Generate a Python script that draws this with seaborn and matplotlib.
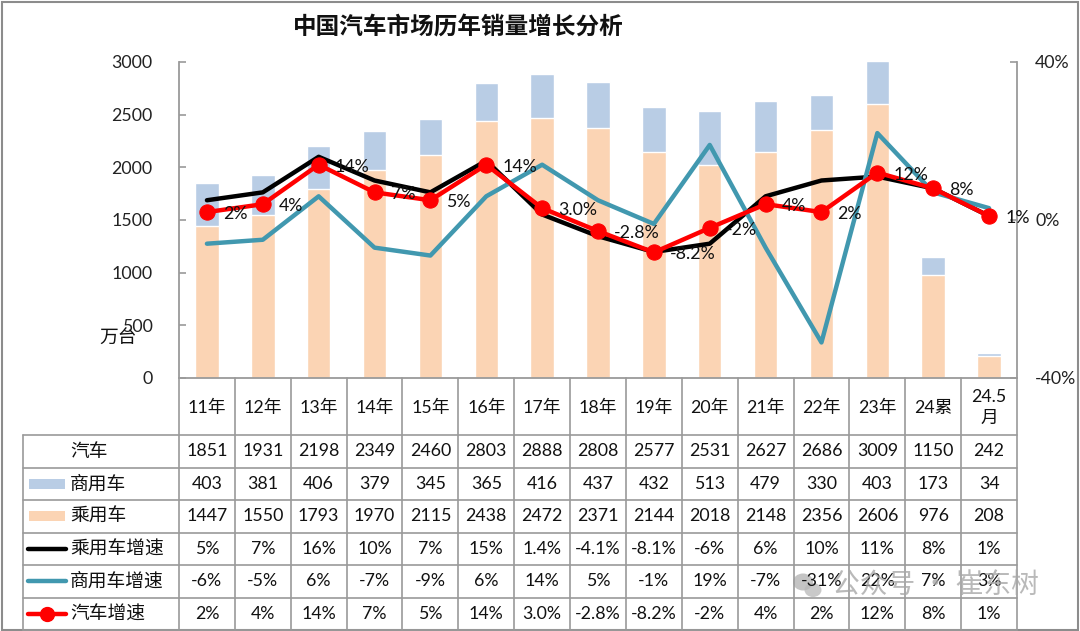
import numpy as np
import pandas as pd
import seaborn as sns
import matplotlib.pyplot as plt
from matplotlib.patches import Rectangle, Ellipse

# 数据
categories = ['11年', '12年', '13年', '14年', '15年', '16年', '17年', '18年',
              '19年', '20年', '21年', '22年', '23年', '24累', '24.5\n月']
total = [1851, 1931, 2198, 2349, 2460, 2803, 2888, 2808, 2577, 2531, 2627, 2686, 3009, 1150, 242]
commercial = [403, 381, 406, 379, 345, 365, 416, 437, 432, 513, 479, 330, 403, 173, 34]
passenger = [1447, 1550, 1793, 1970, 2115, 2438, 2472, 2371, 2144, 2018, 2148, 2356, 2606, 976, 208]
passenger_growth = ['5%', '7%', '16%', '10%', '7%', '15%', '1.4%', '-4.1%', '-8.1%',
                    '-6%', '6%', '10%', '11%', '8%', '1%']
commercial_growth = ['-6%', '-5%', '6%', '-7%', '-9%', '6%', '14%', '5%', '-1%',
                     '19%', '-7%', '-31%', '22%', '7%', '3%']
total_growth = ['2%', '4%', '14%', '7%', '5%', '14%', '3.0%', '-2.8%', '-8.2%',
                '-2%', '4%', '2%', '12%', '8%', '1%']

row_names = ['汽车', '商用车', '乘用车', '乘用车增速', '商用车增速', '汽车增速']

BLUE = '#B9CDE5'
PEACH = '#FBD4B4'
TEAL = '#4198AF'
RED = '#FF0000'
GRID = '#9A9A9A'


def pct(vals):
    return np.array([float(v.rstrip('%')) / 100 for v in vals])


df = pd.DataFrame({'cat': categories, 'commercial': commercial, 'passenger': passenger})
df['stack'] = df['passenger'] + df['commercial']
n = len(df)
xs = np.arange(n)

sns.set_theme(style='white')
plt.rcParams['font.family'] = ['Lato', 'Noto Sans CJK SC', 'DejaVu Sans']

W, H = 1080, 631
fig = plt.figure(figsize=(W / 100, H / 100), dpi=100)

# 表格 / 外框 所用的覆盖层 (像素坐标)
tab = fig.add_axes([0, 0, 1, 1], zorder=0)
tab.set_xlim(0, W)
tab.set_ylim(H, 0)
tab.axis('off')

# 主图区
x0, x1, y_top, y_bot = 179, 1017, 62, 378
ax = fig.add_axes([x0 / W, 1 - y_bot / H, (x1 - x0) / W, (y_bot - y_top) / H], zorder=2)
ax.patch.set_alpha(0)

sns.barplot(data=df, x='cat', y='stack', color=BLUE, width=0.42, saturation=1, ax=ax)
sns.barplot(data=df, x='cat', y='passenger', color=PEACH, width=0.42, saturation=1, ax=ax)
ax.set_xlim(-0.5, n - 0.5)
ax.set_ylim(0, 3000)
ax.set_yticks(range(0, 3001, 500))
ax.set_xticks([])
ax.set_xlabel('')
ax.set_ylabel('')
ax.tick_params(axis='y', direction='in', length=5, width=1.2, color=GRID,
               labelsize=12.8, pad=19, labelcolor='#222222')
for s in ['top', 'right']:
    ax.spines[s].set_visible(False)
for s in ['left', 'bottom']:
    ax.spines[s].set_color(GRID)
    ax.spines[s].set_linewidth(1.3)

ax2 = ax.twinx()
sns.lineplot(x=xs, y=pct(passenger_growth), color='black', linewidth=3.2, sort=False, ax=ax2)
sns.lineplot(x=xs, y=pct(commercial_growth), color=TEAL, linewidth=3.2, sort=False, ax=ax2)
sns.lineplot(x=xs, y=pct(total_growth), color=RED, linewidth=3.2, marker='o', markersize=11,
             markeredgecolor=RED, markerfacecolor=RED, sort=False, ax=ax2)
ax2.set_ylim(-0.4, 0.4)
ax2.set_yticks([-0.4, 0, 0.4])
ax2.set_yticklabels(['-40%', '0%', '40%'])
ax2.set_ylabel('')
ax2.tick_params(axis='y', direction='in', length=5, width=1.2, color=GRID,
                labelsize=12.8, pad=13, labelcolor='#222222')
for s in ['top', 'left', 'bottom']:
    ax2.spines[s].set_visible(False)
ax2.spines['right'].set_color(GRID)
ax2.spines['right'].set_linewidth(1.3)

for i, (lab, v) in enumerate(zip(total_growth, pct(total_growth))):
    ax2.annotate(lab, (i, v), xytext=(11.5, -1.5), textcoords='offset points',
                 ha='left', va='center', fontsize=12.8, color='#111111')

# 标题与单位
fig.text(458 / W, 1 - 28 / H, '中国汽车市场历年销量增长分析', ha='center', va='center',
         fontsize=17, fontweight='bold', family=['Noto Sans CJK SC'], color='#111111')
fig.text(118 / W, 1 - 338 / H, '万台', ha='center', va='center', fontsize=13.5,
         family=['Noto Sans CJK SC'], color='#111111', zorder=5)

# 数据表
col_w = (x1 - x0) / n
row_top = 435
row_h = 32.5
left_edge = 23
bottom_edge = row_top + 6 * row_h
lw = 1.2

for k in range(n + 1):
    tab.plot([x0 + k * col_w] * 2, [y_bot, bottom_edge], color=GRID, lw=lw)
tab.plot([left_edge, left_edge], [row_top, bottom_edge], color=GRID, lw=lw)
for r in range(7):
    y = row_top + r * row_h
    tab.plot([left_edge, x1], [y, y], color=GRID, lw=lw)

for k, c in enumerate(categories):
    tab.text(x0 + (k + 0.5) * col_w, (y_bot + row_top) / 2 + 1, c, ha='center', va='center',
             fontsize=12.8, linespacing=1.35, color='#111111')

rows = [[str(v) for v in total], [str(v) for v in commercial], [str(v) for v in passenger],
        passenger_growth, commercial_growth, total_growth]
for r, vals in enumerate(rows):
    yc = row_top + (r + 0.5) * row_h
    tab.text(70, yc, row_names[r], ha='left', va='center', fontsize=13.5,
             family=['Noto Sans CJK SC'], color='#111111')
    for k, v in enumerate(vals):
        tab.text(x0 + (k + 0.5) * col_w, yc, v, ha='center', va='center',
                 fontsize=12.8, color='#111111')

# 表头图例
key_x0, key_x1 = 28, 66
yc = [row_top + (r + 0.5) * row_h for r in range(6)]
tab.add_patch(Rectangle((key_x0 + 1, yc[1] - 5), key_x1 - key_x0 - 2, 10, color=BLUE, lw=0))
tab.add_patch(Rectangle((key_x0 + 1, yc[2] - 5), key_x1 - key_x0 - 2, 10, color=PEACH, lw=0))
tab.plot([key_x0, key_x1], [yc[3]] * 2, color='black', lw=3.2, solid_capstyle='round')
tab.plot([key_x0, key_x1], [yc[4]] * 2, color=TEAL, lw=3.2, solid_capstyle='round')
tab.plot([key_x0, key_x1], [yc[5]] * 2, color=RED, lw=3.2, solid_capstyle='round')
tab.plot([(key_x0 + key_x1) / 2], [yc[5]], 'o', color=RED, markersize=10)

# 外框
tab.add_patch(Rectangle((1.5, 1.5), W - 3.5, H - 3, fill=False, ec='#8C8C8C', lw=1.5,
                        clip_on=False))

# 水印
tab.add_patch(Ellipse((803, 582), 20, 17, color='#B0B0B0', alpha=0.75, lw=0))
tab.add_patch(Ellipse((813, 590), 17, 14, color='#B8B8B8', alpha=0.75, lw=0))
tab.text(832, 586, '公众号 · 崔东树', ha='left', va='center', fontsize=20,
         family=['Noto Sans CJK SC'], color='#A8A8A8', alpha=0.8, zorder=6)

fig.savefig('out.png', dpi=100)
